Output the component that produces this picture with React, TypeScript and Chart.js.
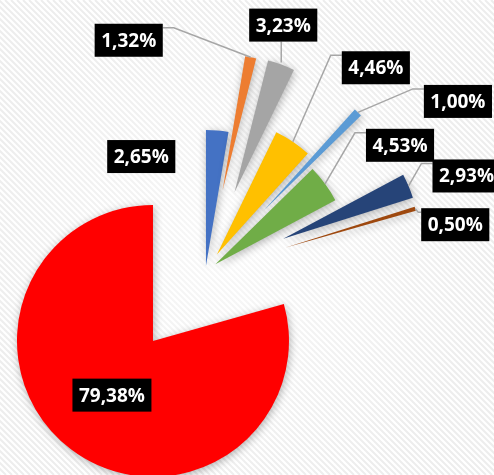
import { useEffect, useRef } from "react";
import { Chart, registerables } from "chart.js";

Chart.register(...registerables);

// ---- data ----
const categories = [
  "Categoria 1",
  "Categoria 2",
  "Categoria 3",
  "Categoria 4",
  "Categoria 5",
  "Categoria 6",
  "Categoria 7",
  "Categoria 8",
  "Categoria 9",
];
const values = [2.65, 1.32, 3.23, 4.46, 1.0, 4.53, 2.93, 0.5, 79.38];
const sliceColors = [
  "#4472C4",
  "#ED7D31",
  "#A5A5A5",
  "#FFC000",
  "#5B9BD5",
  "#70AD47",
  "#264478",
  "#9E480E",
  "#FF0000",
];
// point explosion, percent of the pie radius
const explosionPct = [4, 61, 62, 15, 62, 9, 62, 61, 64];

// ---- label layout (offset of label box centre from slice outer mid-point) ----
type LabelPlace = { dx?: number; dy?: number; leader?: "none" | "side" | "bottom"; inside?: number };
const labelLayout: LabelPlace[] = [
  { dx: -76, dy: 26, leader: "none" },
  { dx: -122, dy: -17, leader: "side" },
  { dx: 2, dy: -39.5, leader: "bottom" },
  { dx: 83, dy: -74, leader: "side" },
  { dx: 100, dy: -11, leader: "side" },
  { dx: 75, dy: -38.5, leader: "side" },
  { dx: 58, dy: -10, leader: "side" },
  { dx: 40, dy: 16, leader: "side" },
  { inside: 0.5 },
];

const fmt = (v: number) => v.toFixed(2).replace(".", ",") + "%";

const bgPlugin = {
  id: "stripedBg",
  beforeDraw(chart: any) {
    const { ctx, width, height } = chart;
    ctx.save();
    ctx.fillStyle = "#ffffff";
    ctx.fillRect(0, 0, width, height);
    ctx.strokeStyle = "#ededed";
    ctx.lineWidth = 2;
    ctx.beginPath();
    for (let k = -height; k < width + height; k += 6) {
      ctx.moveTo(k, 0);
      ctx.lineTo(k + height, height);
    }
    ctx.stroke();
    const g = ctx.createRadialGradient(230, 250, 0, 230, 250, 260);
    g.addColorStop(0, "rgba(255,255,255,0.6)");
    g.addColorStop(1, "rgba(255,255,255,0)");
    ctx.fillStyle = g;
    ctx.fillRect(0, 0, width, height);
    ctx.restore();
  },
};

const explodePlugin = {
  id: "explodeSlices",
  afterDatasetsUpdate(chart: any) {
    const meta = chart.getDatasetMeta(0);
    meta.data.forEach((arc: any, i: number) => {
      const mid = (arc.startAngle + arc.endAngle) / 2;
      const d = (explosionPct[i] / 100) * arc.outerRadius;
      arc.x += Math.cos(mid) * d;
      arc.y += Math.sin(mid) * d;
    });
  },
};

const shadowPlugin = {
  id: "sliceShadow",
  beforeDatasetsDraw(chart: any) {
    const ctx = chart.ctx;
    ctx.save();
    ctx.shadowColor = "rgba(0,0,0,0.3)";
    ctx.shadowBlur = 9;
    ctx.shadowOffsetX = 1;
    ctx.shadowOffsetY = 2;
  },
  afterDatasetsDraw(chart: any) {
    chart.ctx.restore();
  },
};

const labelPlugin = {
  id: "boxLabels",
  afterDraw(chart: any) {
    const ctx = chart.ctx;
    const meta = chart.getDatasetMeta(0);
    ctx.save();
    ctx.font = "bold 19px 'Open Sans'";
    const boxes: any[] = [];
    meta.data.forEach((arc: any, i: number) => {
      const mid = (arc.startAngle + arc.endAngle) / 2;
      const R = arc.outerRadius;
      const place = labelLayout[i];
      const text = fmt(values[i]);
      const tw = ctx.measureText(text).width;
      const bw = tw + 13;
      const bh = 33;
      let cx: number, cy: number;
      const ax = arc.x + Math.cos(mid) * R;
      const ay = arc.y + Math.sin(mid) * R;
      if (place.inside != null) {
        cx = arc.x + Math.cos(mid) * R * place.inside;
        cy = arc.y + Math.sin(mid) * R * place.inside;
      } else {
        cx = ax + (place.dx || 0);
        cy = ay + (place.dy || 0);
      }
      const left = cx - bw / 2;
      const top = cy - bh / 2;
      boxes.push({ text, left, top, bw, bh, cx, cy });
      if (place.leader === "side" || place.leader === "bottom") {
        ctx.strokeStyle = "#a6a6a6";
        ctx.lineWidth = 1.5;
        ctx.beginPath();
        if (place.leader === "bottom") {
          ctx.moveTo(ax, top + bh);
          ctx.lineTo(ax, ay - 2);
        } else {
          const right = left + bw;
          const onLeft = ax < left;
          const attachX = onLeft ? left : right;
          const attachY = top + 4;
          const gap = Math.min(11, Math.abs(attachX - ax) / 2);
          const elbowX = onLeft ? attachX - gap : attachX + gap;
          ctx.moveTo(attachX, attachY);
          ctx.lineTo(elbowX, attachY);
          ctx.lineTo(ax, ay);
        }
        ctx.stroke();
      }
    });
    boxes.forEach((b) => {
      ctx.fillStyle = "#000000";
      ctx.fillRect(b.left, b.top, b.bw, b.bh);
      ctx.fillStyle = "#ffffff";
      ctx.textAlign = "center";
      ctx.textBaseline = "middle";
      ctx.fillText(b.text, b.cx, b.cy + 1);
    });
    ctx.restore();
  },
};

export default function App() {
  const ref = useRef<HTMLCanvasElement>(null);
  useEffect(() => {
    const chart = new Chart(ref.current as HTMLCanvasElement, {
      type: "pie",
      data: {
        labels: categories,
        datasets: [
          {
            data: values,
            backgroundColor: sliceColors,
            borderWidth: 0,
            radius: 136,
          } as any,
        ],
      },
      options: {
        responsive: false,
        animation: false,
        events: [],
        layout: { padding: { left: 0, right: 83, top: 68, bottom: 0 } },
        plugins: { legend: { display: false }, tooltip: { enabled: false } },
      },
      plugins: [bgPlugin, explodePlugin, shadowPlugin, labelPlugin],
    });
    return () => chart.destroy();
  }, []);
  return (
    <canvas
      ref={ref}
      width={494}
      height={475}
      style={{ position: "fixed", left: 0, top: 0, display: "block", width: 494, height: 475 }}
    />
  );
}
